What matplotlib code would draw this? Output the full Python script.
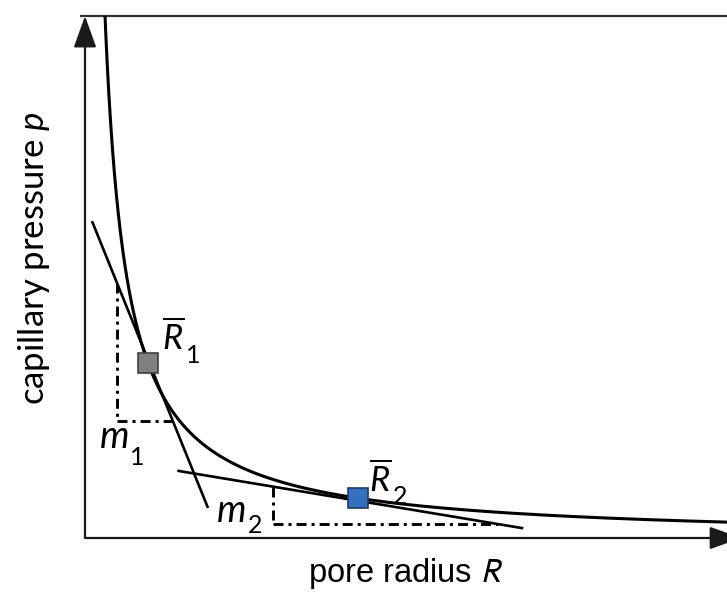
import numpy as np
import matplotlib
matplotlib.use("Agg")
import matplotlib.pyplot as plt

plt.rcParams['mathtext.fontset'] = 'custom'
plt.rcParams['mathtext.it'] = 'Lato:italic'
plt.rcParams['mathtext.rm'] = 'Lato'
plt.rcParams['lines.scale_dashes'] = False

# ---- data (normalised units: R and p both span 0..10 on the drawn axes) ----
curve_K = 3.43          # p = K / (R + A) + B
curve_A = 0.03
curve_B = -0.038
R_max = 10.0
p_max = 10.0

R1 = 0.98               # tangent point 1
R2 = 4.25               # tangent point 2

tangent1_R = [0.109, 1.916]
tangent1_p = [6.07, 0.575]
tangent2_R = [1.438, 6.827]
tangent2_p = [1.289, 0.186]

tri1_corner = (0.50, 2.24)
tri2_corner = (2.93, 0.268)

point_main = r'$\overline{R}$'
point_subs = ['1', '2']
slope_main = r'$m$'
slope_subs = ['1', '2']
xlabel = r'pore radius $R$'
ylabel = r'capillary pressure $p$'


def curve(R):
    return curve_K / (np.asarray(R) + curve_A) + curve_B


fig = plt.figure(figsize=(7.27, 5.92), dpi=100)
W, H = 727, 592
ax = fig.add_axes([85 / W, (H - 538) / H, 642 / W, (538 - 16) / H])
ax.set_xlim(0, R_max)
ax.set_ylim(0, p_max)
ax.axis('off')

axis_col = '#1a1a1a'
# top border
ax.plot([-0.08, R_max], [p_max, p_max], color='#333333', lw=1.6,
        clip_on=False, solid_capstyle='butt', zorder=1)
# axes arrows
arrow_kw = dict(arrowstyle='-|>,head_length=1.0,head_width=0.36',
                mutation_scale=19.5, lw=1.6, color=axis_col,
                shrinkA=0, shrinkB=0)
ax.annotate('', xy=(0, p_max), xytext=(0, 0), arrowprops=arrow_kw,
            annotation_clip=False, zorder=3)
ax.annotate('', xy=(R_max * 1.022, 0), xytext=(0, 0), arrowprops=arrow_kw,
            annotation_clip=False, zorder=3)

# hyperbola
Rs = np.linspace(0.2, R_max, 2000)
ax.plot(Rs, curve(Rs), color='black', lw=2.2, zorder=4)

# tangents
ax.plot(tangent1_R, tangent1_p, color='black', lw=1.9, zorder=4,
        solid_capstyle='butt')
ax.plot(tangent2_R, tangent2_p, color='black', lw=1.9, zorder=4,
        solid_capstyle='butt')

# slope triangles (dash-dot)
dd = (0, (7.2, 3.6, 2.2, 3.6))


def tri(corner, tR, tp):
    cR, cp = corner
    slope = (tp[1] - tp[0]) / (tR[1] - tR[0])
    top = tp[0] + (cR - tR[0]) * slope
    right = tR[0] + (cp - tp[0]) / slope
    ax.plot([cR, cR], [top, cp], color='black', lw=2.1, ls=dd, zorder=3)
    ax.plot([cR, right], [cp, cp], color='black', lw=2.1, ls=dd, zorder=3)


tri(tri1_corner, tangent1_R, tangent1_p)
tri(tri2_corner, tangent2_R, tangent2_p)

# markers
ax.plot([R1], [curve(R1)], marker='s', ms=14.4, mfc='#808080', mec='#404040',
        mew=1.2, zorder=6, ls='none')
ax.plot([R2], [curve(R2)], marker='s', ms=14.4, mfc='#3570C0', mec='#1F3A64',
        mew=1.2, zorder=6, ls='none')


def label(xy, main, sub, main_off, sub_off, main_size, sub_size):
    ax.annotate(main, xy=xy, xytext=main_off, textcoords='offset points',
                fontsize=main_size, ha='left', va='baseline',
                annotation_clip=False, zorder=7)
    ax.annotate(sub, xy=xy, xytext=sub_off, textcoords='offset points',
                fontsize=sub_size, family='Lato', ha='left', va='baseline',
                annotation_clip=False, zorder=7)


label((R1, curve(R1)), point_main, point_subs[0], (10.0, 9.4), (27.5, 0.0), 25, 18)
label((R2, curve(R2)), point_main, point_subs[1], (7.8, 5.0), (25.0, -4.5), 25, 18)
label(tri1_corner, slope_main, slope_subs[0], (-12.8, -19.4), (9.6, -31.5), 27, 18)
label(tri2_corner, slope_main, slope_subs[1], (-41.0, 1.4), (-18.2, -6.5), 27, 18)

fig.text(406 / W, 1 - 582 / H, xlabel, fontsize=23.5, family='Liberation Sans',
         ha='center', va='baseline', math_fontfamily='stixsans')
fig.text(34 / W, 1 - 258 / H, ylabel, fontsize=25, family='Lato',
         rotation=90, ha='center', va='center')

fig.savefig('out.png', dpi=100)
